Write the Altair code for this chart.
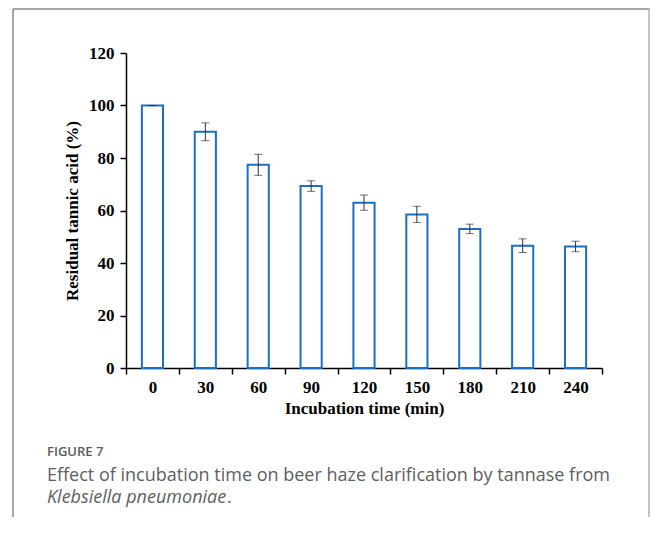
import altair as alt
import pandas as pd

times = ["0", "30", "60", "90", "120", "150", "180", "210", "240"]
residual = [100.0, 90.0, 77.4, 69.3, 63.0, 58.5, 53.0, 46.6, 46.3]
errors = [0.0, 3.4, 4.0, 2.0, 2.9, 3.1, 1.8, 2.6, 2.0]

df = pd.DataFrame({"time": times, "residual": residual, "err": errors})
df["lo"] = df["residual"] - df["err"]
df["hi"] = df["residual"] + df["err"]

serif = "Liberation Serif"
sans = "Open Sans"

x_enc = alt.X(
    "time:N",
    sort=times,
    scale=alt.Scale(paddingInner=0, paddingOuter=0),
    axis=alt.Axis(
        title="Incubation time (min)",
        labelAngle=0,
        grid=False,
        tickBand="extent",
        tickSize=6,
        tickColor="black",
        tickWidth=1.5,
        domainColor="black",
        domainWidth=1.5,
        labelFont=serif,
        labelFontSize=17,
        labelFontWeight="bold",
        labelColor="black",
        labelPadding=5,
        titleFont=serif,
        titleFontSize=17,
        titleFontWeight="bold",
        titleColor="black",
        titlePadding=5,
    ),
)

y_axis = alt.Axis(
    title="Residual tannic acid (%)",
    values=[0, 20, 40, 60, 80, 100, 120],
    grid=False,
    tickSize=6,
    tickColor="black",
    tickWidth=1.5,
    domainColor="black",
    domainWidth=1.5,
    labelFont=serif,
    labelFontSize=17,
    labelFontWeight="bold",
    labelColor="black",
    labelPadding=6,
    titleFont=serif,
    titleFontSize=17,
    titleFontWeight="bold",
    titleColor="black",
    titlePadding=7,
)

base = alt.Chart(df)

bars = base.mark_bar(
    fill="white", stroke="#1a6fc4", strokeWidth=2, width=alt.RelativeBandSize(0.4)
).encode(
    x=x_enc,
    y=alt.Y("residual:Q", scale=alt.Scale(domain=[0, 120]), axis=y_axis),
)

errbars = base.mark_errorbar(
    color="#333333", thickness=1, ticks=alt.MarkConfig(size=8, color="#333333")
).encode(
    x=alt.X("time:N", sort=times),
    y=alt.Y("lo:Q", title="Residual tannic acid (%)"),
    y2="hi:Q",
)

one = pd.DataFrame({"k": [0]})
deco = alt.Chart(one)

top_line = deco.mark_rule(color="#8a8a8a", strokeWidth=1.5).encode(
    x=alt.value(-113), x2=alt.value(524), y=alt.value(-44)
)
left_line = deco.mark_rule(color="#8a8a8a", strokeWidth=1.5).encode(
    x=alt.value(-113), y=alt.value(-44), y2=alt.value(470)
)
right_line = deco.mark_rule(color="#c4c4c4", strokeWidth=2).encode(
    x=alt.value(523), y=alt.value(-44), y2=alt.value(470)
)

fig_label = deco.mark_text(
    align="left", baseline="middle", font=sans, fontSize=13, fontWeight=600, color="#5a5a5a"
).encode(x=alt.value(-79), y=alt.value(399), text=alt.value("FIGURE 7"))

cap1 = deco.mark_text(
    align="left", baseline="middle", font=sans, fontSize=18, color="#606060"
).encode(
    x=alt.value(-79),
    y=alt.value(423),
    text=alt.value("Effect of incubation time on beer haze clarification by tannase from"),
)
cap2 = deco.mark_text(
    align="left", baseline="middle", font=sans, fontSize=18, fontStyle="italic", color="#606060"
).encode(x=alt.value(-79), y=alt.value(445), text=alt.value("Klebsiella pneumoniae"))
cap2b = deco.mark_text(
    align="left", baseline="middle", font=sans, fontSize=18, color="#606060"
).encode(x=alt.value(101), y=alt.value(445), text=alt.value("."))

chart = (
    alt.layer(bars, errbars, top_line, left_line, right_line, fig_label, cap1, cap2, cap2b)
    .properties(
        width=476,
        height=315,
        background="white",
        autosize=alt.AutoSizeParams(type="none"),
        padding={"left": 118, "top": 45, "right": 48, "bottom": 149},
    )
    .configure_view(stroke=None)
    .configure_axis(grid=False)
)

chart.save("out.html", embed_options={"renderer": "svg", "actions": False})
